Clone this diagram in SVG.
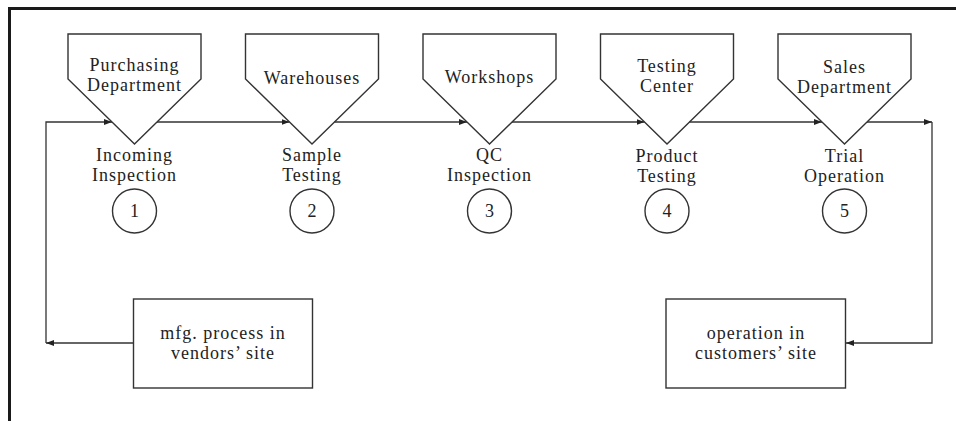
<svg xmlns="http://www.w3.org/2000/svg" width="956" height="421" viewBox="0 0 956 421">
<style>
.t{font-family:"Liberation Serif","Times New Roman",serif;font-size:18px;fill:#222;text-anchor:middle;letter-spacing:1px}
.s{fill:#fff;stroke:#333;stroke-width:1.4}
.p{fill:none;stroke:#333;stroke-width:1.4}
.c{fill:none;stroke:#333;stroke-width:1.3}
</style>
<defs>
<marker id="ah" viewBox="0 0 8 6" markerWidth="8" markerHeight="6" refX="8" refY="3" orient="auto" markerUnits="userSpaceOnUse">
<path d="M0,0 L8,3 L0,6 z" fill="#222"/>
</marker>
</defs>
<rect width="956" height="421" fill="#fff"/>
<path d="M9.5,421 V8.5 H956" fill="none" stroke="#1a1a1a" stroke-width="3"/>
<g id="connectors">
<path class="c" d="M133,343 H46" marker-end="url(#ah)"/>
<path class="c" d="M46,343 V122 H112" marker-end="url(#ah)"/>
<path class="c" d="M157,122 H289.5" marker-end="url(#ah)"/>
<path class="c" d="M334.5,122 H467" marker-end="url(#ah)"/>
<path class="c" d="M512,122 H644.5" marker-end="url(#ah)"/>
<path class="c" d="M689.5,122 H822" marker-end="url(#ah)"/>
<path class="c" d="M867,122 H932" marker-end="url(#ah)"/>
<path class="c" d="M932,122 V343 H846" marker-end="url(#ah)"/>
</g>
<g id="purchasing">
<polygon class="p" points="68,34 201,34 201,79 134.5,144 68,79"/>
<text class="t" x="134.5" y="71">Purchasing</text>
<text class="t" x="134.5" y="91">Department</text>
</g>
<g id="warehouses">
<polygon class="p" points="245.5,34 378.5,34 378.5,79 312,144 245.5,79"/>
<text class="t" x="312" y="84">Warehouses</text>
</g>
<g id="workshops">
<polygon class="p" points="423,34 556,34 556,79 489.5,144 423,79"/>
<text class="t" x="489.5" y="83">Workshops</text>
</g>
<g id="testing-center">
<polygon class="p" points="600.5,34 733.5,34 733.5,79 667,144 600.5,79"/>
<text class="t" x="667" y="72">Testing</text>
<text class="t" x="667" y="92">Center</text>
</g>
<g id="sales">
<polygon class="p" points="778,34 911,34 911,79 844.5,144 778,79"/>
<text class="t" x="844.5" y="73">Sales</text>
<text class="t" x="844.5" y="93">Department</text>
</g>
<g id="step1">
<text class="t" x="134.5" y="161">Incoming</text>
<text class="t" x="134.5" y="181">Inspection</text>
<circle class="s" cx="134.5" cy="211" r="22"/>
<text class="t" x="135" y="217">1</text>
</g>
<g id="step2">
<text class="t" x="312" y="161">Sample</text>
<text class="t" x="312" y="181">Testing</text>
<circle class="s" cx="312" cy="211" r="22"/>
<text class="t" x="312.5" y="217">2</text>
</g>
<g id="step3">
<text class="t" x="489.5" y="161">QC</text>
<text class="t" x="489.5" y="181">Inspection</text>
<circle class="s" cx="489.5" cy="211" r="22"/>
<text class="t" x="490" y="217">3</text>
</g>
<g id="step4">
<text class="t" x="667" y="162">Product</text>
<text class="t" x="667" y="182">Testing</text>
<circle class="s" cx="667" cy="211" r="22"/>
<text class="t" x="667.5" y="217">4</text>
</g>
<g id="step5">
<text class="t" x="844.5" y="162">Trial</text>
<text class="t" x="844.5" y="182">Operation</text>
<circle class="s" cx="844.5" cy="211" r="22"/>
<text class="t" x="845" y="217">5</text>
</g>
<g id="vendors">
<rect class="s" x="133.5" y="299" width="179" height="89"/>
<text class="t" x="223" y="339">mfg. process in</text>
<text class="t" x="223" y="359">vendors’ site</text>
</g>
<g id="customers">
<rect class="s" x="666" y="299" width="179.5" height="89"/>
<text class="t" x="756" y="339">operation in</text>
<text class="t" x="756" y="359">customers’ site</text>
</g>
</svg>
